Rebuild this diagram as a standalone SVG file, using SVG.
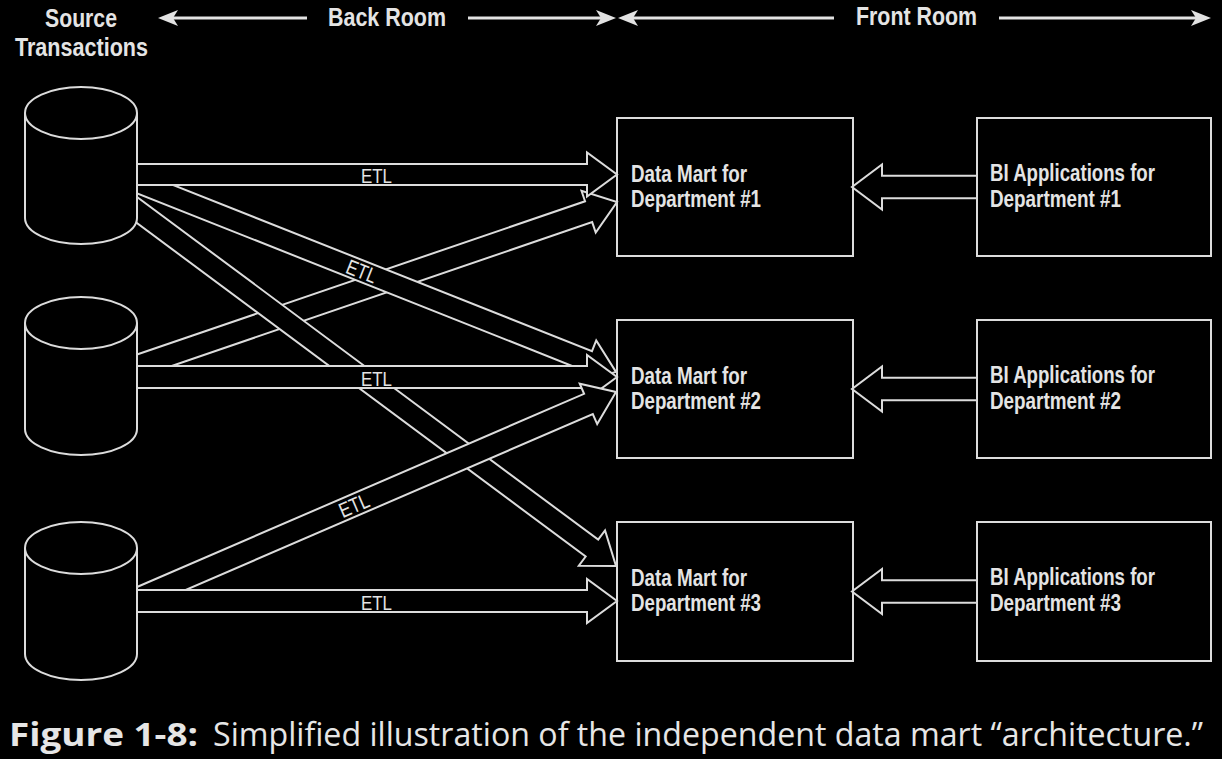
<svg xmlns="http://www.w3.org/2000/svg" width="1222" height="759" viewBox="0 0 1222 759">
<style>
.ar{fill:#000;stroke:#dcdcdc;stroke-width:2;stroke-linejoin:miter}
.cy{fill:#000;stroke:#dcdcdc;stroke-width:2}
.in{fill:none;stroke:#dcdcdc;stroke-width:2}
.hl{fill:none;stroke:#e2e2e2;stroke-width:3}
.hh{fill:#e2e2e2}
.lbl{font-family:"Liberation Sans",Arial,sans-serif;font-weight:bold;font-size:23px;fill:#e4e4e4}
.hd{font-family:"Liberation Sans",Arial,sans-serif;font-weight:bold;font-size:26px;fill:#e4e4e4}
.etl{font-family:"Liberation Sans",Arial,sans-serif;font-size:21px;fill:#e4e4e4}
.cap{font-family:"Open Sans","Noto Sans","Liberation Sans",sans-serif;font-size:32px;fill:#e6e6e6}
</style>
<rect x="0" y="0" width="1222" height="759" fill="#000"/>

<g id="header">
  <text class="hd" x="45" y="27" textLength="72" lengthAdjust="spacingAndGlyphs">Source</text>
  <text class="hd" x="15" y="56" textLength="133" lengthAdjust="spacingAndGlyphs">Transactions</text>
  <text class="hd" x="328" y="26" textLength="118" lengthAdjust="spacingAndGlyphs">Back Room</text>
  <text class="hd" x="856" y="25" textLength="121" lengthAdjust="spacingAndGlyphs">Front Room</text>
  <line class="hl" x1="173" y1="18" x2="307" y2="18"/>
  <polygon class="hh" points="158,18 178,10 173,18 178,26"/>
  <line class="hl" x1="468" y1="18" x2="601" y2="18"/>
  <polygon class="hh" points="616,18 596,10 601,18 596,26"/>
  <line class="hl" x1="633" y1="18" x2="834" y2="18"/>
  <polygon class="hh" points="618,18 638,10 633,18 638,26"/>
  <line class="hl" x1="999" y1="18" x2="1196" y2="18"/>
  <polygon class="hh" points="1211,18 1191,10 1196,18 1191,26"/>
</g>

<g id="connectors">
  <g transform="translate(617,202) rotate(-18.88)">
    <polygon class="ar" points="-526,-11 -30,-11 -30,-22 0,0 -30,22 -30,11 -526,11"/>
  </g>
  <g transform="translate(616,372) rotate(21.64)">
    <polygon class="ar" points="-534,-10.5 -30,-10.5 -30,-22 0,0 -30,22 -30,10.5 -534,10.5"/>
    <text class="etl" x="-289" y="7.5" textLength="31" lengthAdjust="spacingAndGlyphs">ETL</text>
  </g>
  <g transform="translate(616,566) rotate(36.62)">
    <polygon class="ar" points="-618,-10.5 -30,-10.5 -30,-22 0,0 -30,22 -30,10.5 -618,10.5"/>
  </g>
  <g transform="translate(617,174.5)">
    <polygon class="ar" points="-497,-10.5 -30,-10.5 -30,-22 0,0 -30,22 -30,10.5 -497,10.5"/>
    <text class="etl" x="-256" y="8.5" textLength="31" lengthAdjust="spacingAndGlyphs">ETL</text>
  </g>
  <g transform="translate(617,377)">
    <polygon class="ar" points="-497,-11 -30,-11 -30,-22 0,0 -30,22 -30,11 -497,11"/>
    <text class="etl" x="-256" y="8.5" textLength="31" lengthAdjust="spacingAndGlyphs">ETL</text>
  </g>
  <g transform="translate(616,392) rotate(-23.37)">
    <polygon class="ar" points="-541,-11 -30,-11 -30,-22 0,0 -30,22 -30,11 -541,11"/>
    <text class="etl" x="-301" y="7.5" textLength="31" lengthAdjust="spacingAndGlyphs">ETL</text>
  </g>
  <g transform="translate(617,601)">
    <polygon class="ar" points="-497,-11 -30,-11 -30,-22 0,0 -30,22 -30,11 -497,11"/>
    <text class="etl" x="-256" y="8.5" textLength="31" lengthAdjust="spacingAndGlyphs">ETL</text>
  </g>
  <g transform="translate(852,187) rotate(180)">
    <polygon class="ar" points="-125,-11.3 -30,-11.3 -30,-22.5 0,0 -30,22.5 -30,11.3 -125,11.3"/>
  </g>
  <g transform="translate(852,389) rotate(180)">
    <polygon class="ar" points="-125,-11.3 -30,-11.3 -30,-22.5 0,0 -30,22.5 -30,11.3 -125,11.3"/>
  </g>
  <g transform="translate(852,591.5) rotate(180)">
    <polygon class="ar" points="-125,-11.3 -30,-11.3 -30,-22.5 0,0 -30,22.5 -30,11.3 -125,11.3"/>
  </g>
</g>

<g id="source1">
  <path class="cy" d="M25,113 A56,26 0 0 1 137,113 L137,218 A56,26 0 0 1 25,218 Z"/>
  <path class="in" d="M25,113 A56,26 0 0 0 137,113"/>
</g>
<g id="source2">
  <path class="cy" d="M25,323 A56,26 0 0 1 137,323 L137,429 A56,26 0 0 1 25,429 Z"/>
  <path class="in" d="M25,323 A56,26 0 0 0 137,323"/>
</g>
<g id="source3">
  <path class="cy" d="M25,548 A56,26 0 0 1 137,548 L137,654 A56,26 0 0 1 25,654 Z"/>
  <path class="in" d="M25,548 A56,26 0 0 0 137,548"/>
</g>

<g id="mart1">
  <rect class="in" x="617" y="118" width="236" height="138"/>
  <text class="lbl" x="631" y="182" textLength="116" lengthAdjust="spacingAndGlyphs">Data Mart for</text>
  <text class="lbl" x="631" y="207" textLength="130" lengthAdjust="spacingAndGlyphs">Department #1</text>
</g>
<g id="mart2">
  <rect class="in" x="617" y="320" width="236" height="138"/>
  <text class="lbl" x="631" y="384" textLength="116" lengthAdjust="spacingAndGlyphs">Data Mart for</text>
  <text class="lbl" x="631" y="409" textLength="130" lengthAdjust="spacingAndGlyphs">Department #2</text>
</g>
<g id="mart3">
  <rect class="in" x="617" y="522" width="236" height="139"/>
  <text class="lbl" x="631" y="586" textLength="116" lengthAdjust="spacingAndGlyphs">Data Mart for</text>
  <text class="lbl" x="631" y="611" textLength="130" lengthAdjust="spacingAndGlyphs">Department #3</text>
</g>

<g id="bi1">
  <rect class="in" x="977" y="118" width="234" height="138"/>
  <text class="lbl" x="990" y="181" textLength="165" lengthAdjust="spacingAndGlyphs">BI Applications for</text>
  <text class="lbl" x="990" y="207" textLength="131" lengthAdjust="spacingAndGlyphs">Department #1</text>
</g>
<g id="bi2">
  <rect class="in" x="977" y="320" width="234" height="138"/>
  <text class="lbl" x="990" y="383" textLength="165" lengthAdjust="spacingAndGlyphs">BI Applications for</text>
  <text class="lbl" x="990" y="409" textLength="131" lengthAdjust="spacingAndGlyphs">Department #2</text>
</g>
<g id="bi3">
  <rect class="in" x="977" y="522" width="234" height="139"/>
  <text class="lbl" x="990" y="585" textLength="165" lengthAdjust="spacingAndGlyphs">BI Applications for</text>
  <text class="lbl" x="990" y="611" textLength="131" lengthAdjust="spacingAndGlyphs">Department #3</text>
</g>

<g id="caption">
  <text class="cap" x="9" y="746" font-weight="bold" textLength="189" lengthAdjust="spacingAndGlyphs">Figure 1-8:</text>
  <text class="cap" x="213" y="746" textLength="990" lengthAdjust="spacingAndGlyphs">Simplified illustration of the independent data mart “architecture.”</text>
</g>
</svg>
